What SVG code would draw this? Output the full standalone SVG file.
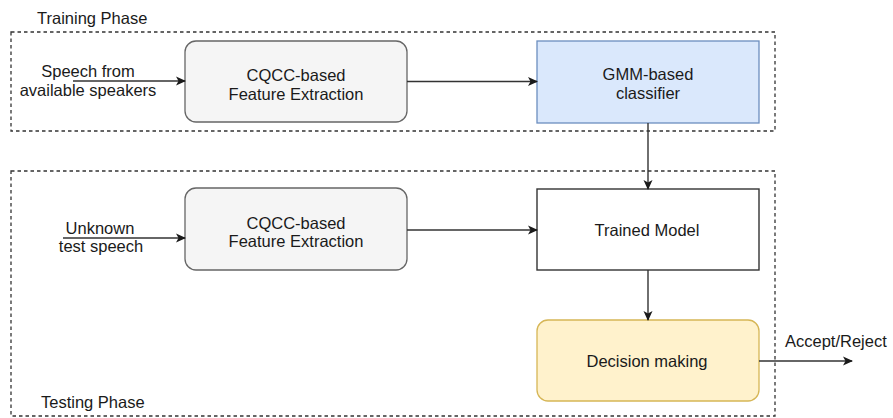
<svg xmlns="http://www.w3.org/2000/svg" width="893" height="418" viewBox="0 0 893 418">
<style>
text{font-family:"Liberation Sans",Arial,sans-serif;font-size:16.5px;fill:#1a1a1a}
.c{text-anchor:middle}
.phase{fill:none;stroke:#333;stroke-width:1.3;stroke-dasharray:3.5 3}
.edge{fill:none;stroke:#333;stroke-width:1.4}
</style>
<defs>
<marker id="ah" viewBox="0 0 10 10" refX="9" refY="5" markerWidth="10" markerHeight="10" markerUnits="userSpaceOnUse" orient="auto">
<path d="M0,0.5 L10,5 L0,9.5 L2.5,5 Z" fill="#1a1a1a"/>
</marker>
</defs>
<rect width="893" height="418" fill="#fff"/>
<g id="training-phase">
<rect class="phase" x="11" y="32" width="764" height="99"/>
<text x="37" y="24">Training Phase</text>
</g>
<g id="testing-phase">
<rect class="phase" x="11" y="171" width="764" height="245"/>
<text x="41" y="408">Testing Phase</text>
</g>
<g id="input-train">
<text class="c" x="88" y="77">Speech from</text>
<text class="c" x="88" y="96">available speakers</text>
</g>
<g id="input-test">
<text class="c" x="100" y="234">Unknown</text>
<text class="c" x="101" y="252">test speech</text>
</g>
<g id="cqcc-train">
<rect x="185" y="41" width="222" height="81" rx="11" fill="#f5f5f5" stroke="#666" stroke-width="1.3"/>
<text class="c" x="296" y="81">CQCC-based</text>
<text class="c" x="296" y="99.5">Feature Extraction</text>
</g>
<g id="gmm">
<rect x="537" y="41" width="222" height="82" fill="#dae8fc" stroke="#6c8ebf" stroke-width="1.3"/>
<text class="c" x="648" y="80">GMM-based</text>
<text class="c" x="648" y="99">classifier</text>
</g>
<g id="cqcc-test">
<rect x="185" y="188" width="222" height="82" rx="11" fill="#f5f5f5" stroke="#666" stroke-width="1.3"/>
<text class="c" x="296" y="228.5">CQCC-based</text>
<text class="c" x="296" y="247">Feature Extraction</text>
</g>
<g id="trained-model">
<rect x="537" y="189" width="222" height="81" fill="#fff" stroke="#333" stroke-width="1.4"/>
<text class="c" x="647" y="236">Trained Model</text>
</g>
<g id="decision">
<rect x="537" y="320" width="222" height="81" rx="11" fill="#fff2cc" stroke="#d6b656" stroke-width="1.3"/>
<text class="c" x="647" y="367">Decision making</text>
</g>
<g id="output">
<text x="785" y="347">Accept/Reject</text>
</g>
<g id="connectors">
<path class="edge" d="M73,81 H185" marker-end="url(#ah)"/>
<path class="edge" d="M407,81.5 H537" marker-end="url(#ah)"/>
<path class="edge" d="M648,123 V189" marker-end="url(#ah)"/>
<path class="edge" d="M63,238 H185" marker-end="url(#ah)"/>
<path class="edge" d="M407,230 H537" marker-end="url(#ah)"/>
<path class="edge" d="M648,270 V320" marker-end="url(#ah)"/>
<path class="edge" d="M759,361 H852" marker-end="url(#ah)"/>
</g>
</svg>
